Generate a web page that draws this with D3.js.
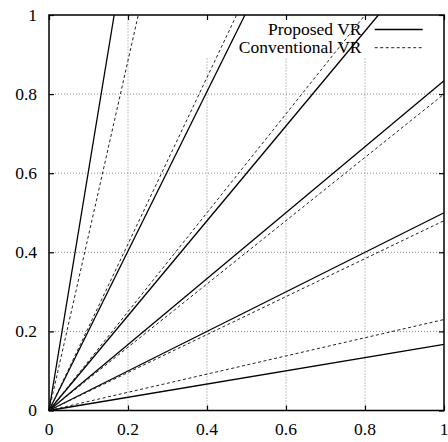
<!DOCTYPE html>
<html>
<head>
<meta charset="utf-8">
<script src="https://cdn.jsdelivr.net/npm/d3@7"></script>
<style>
  body { margin: 0; background: #fff; }
  svg { display: block; }
  svg text { font-family: "Liberation Serif", "DejaVu Serif", serif; font-size: 17.5px; fill: #000; }
</style>
</head>
<body>
<div id="chart"></div>
<script>
// ticks
const tickValues = [0, 0.2, 0.4, 0.6, 0.8, 1];
const tickLabels = ["0", "0.2", "0.4", "0.6", "0.8", "1"];

// each line goes from origin to where it leaves the plot
const proposedEnds = [[0.165, 1], [0.496, 1], [0.834, 1], [1, 0.834], [1, 0.5], [1, 0.167]];
const conventionalEnds = [[0.226, 1], [0.475, 1], [0.80, 1], [1, 0.80], [1, 0.48], [1, 0.23]];

const seriesNames = ["Proposed VR", "Conventional VR"];

const width = 448, height = 442;
const margin = { top: 15, right: 4, bottom: 31.5, left: 49 };

const x = d3.scaleLinear().domain([0, 1]).range([margin.left, width - margin.right]);
const y = d3.scaleLinear().domain([0, 1]).range([height - margin.bottom, margin.top]);

const svg = d3.select("#chart").append("svg")
  .attr("width", width)
  .attr("height", height);

// grille pointillée
const grid = svg.append("g")
  .attr("stroke", "#888")
  .attr("stroke-width", 1)
  .attr("stroke-dasharray", "1,2");

grid.selectAll("line.v")
  .data(tickValues.slice(1, -1))
  .join("line")
  .attr("x1", d => x(d)).attr("x2", d => x(d))
  .attr("y1", y(0)).attr("y2", y(1));

grid.selectAll("line.h")
  .data(tickValues.slice(1, -1))
  .join("line")
  .attr("class", "h")
  .attr("x1", x(0)).attr("x2", x(1))
  .attr("y1", d => y(d)).attr("y2", d => y(d));

// key box hides the grid behind it
svg.append("rect")
  .attr("x", 150).attr("y", y(1) + 1)
  .attr("width", x(1) - 151).attr("height", 41)
  .attr("fill", "#fff");

// lines
const line = d3.line().x(d => x(d[0])).y(d => y(d[1]));

svg.append("g").selectAll("path")
  .data(proposedEnds)
  .join("path")
  .attr("fill", "none")
  .attr("stroke", "#000")
  .attr("stroke-width", 1.3)
  .attr("d", d => line([[0, 0], d]));

svg.append("g").selectAll("path")
  .data(conventionalEnds)
  .join("path")
  .attr("fill", "none")
  .attr("stroke", "#222")
  .attr("stroke-width", 1)
  .attr("stroke-dasharray", "3,2.5")
  .attr("d", d => line([[0, 0], d]));

// ticks vers l'intérieur (sans texte, les labels sont dessinés à part)
function styleAxis(g) {
  g.select(".domain").remove();
  g.selectAll(".tick text").remove();
  g.selectAll(".tick line").attr("stroke", "#000").attr("stroke-width", 1.2);
}

svg.append("g").attr("transform", `translate(${x(0)},0)`)
  .call(d3.axisLeft(y).tickValues(tickValues).tickSize(-5)).call(styleAxis);
svg.append("g").attr("transform", `translate(0,${y(0)})`)
  .call(d3.axisBottom(x).tickValues(tickValues).tickSize(-5)).call(styleAxis);
svg.append("g").attr("transform", `translate(${x(1)},0)`)
  .call(d3.axisRight(y).tickValues(tickValues).tickSize(-5)).call(styleAxis);
svg.append("g").attr("transform", `translate(0,${y(1)})`)
  .call(d3.axisTop(x).tickValues(tickValues).tickSize(-5)).call(styleAxis);

// labels
svg.append("g").selectAll("text")
  .data(tickValues)
  .join("text")
  .attr("x", x(0) - 12)
  .attr("y", d => y(d))
  .attr("dy", "0.32em")
  .attr("text-anchor", "end")
  .text((d, i) => tickLabels[i]);

svg.append("g").selectAll("text")
  .data(tickValues)
  .join("text")
  .attr("x", d => x(d))
  .attr("y", y(0) + 24)
  .attr("text-anchor", "middle")
  .text((d, i) => tickLabels[i]);

// cadre
svg.append("rect")
  .attr("x", x(0)).attr("y", y(1))
  .attr("width", x(1) - x(0)).attr("height", y(0) - y(1))
  .attr("fill", "none")
  .attr("stroke", "#000")
  .attr("stroke-width", 1.5);

// légende
const legend = svg.append("g");
seriesNames.forEach((name, i) => {
  const ly = 29.5 + i * 18.2;
  legend.append("text")
    .attr("x", 361.5).attr("y", ly)
    .attr("dy", "0.32em")
    .attr("text-anchor", "end")
    .text(name);
  legend.append("line")
    .attr("x1", 374.7).attr("x2", 422.7)
    .attr("y1", ly).attr("y2", ly)
    .attr("stroke", i === 0 ? "#000" : "#222")
    .attr("stroke-width", i === 0 ? 1.3 : 1)
    .attr("stroke-dasharray", i === 0 ? null : "3,2.5");
});
</script>
</body>
</html>
